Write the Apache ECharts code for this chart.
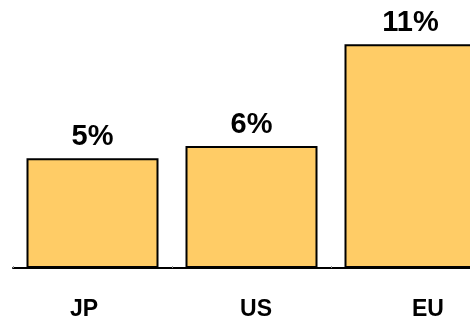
<!DOCTYPE html>
<html>
<head>
<meta charset="utf-8">
<script src="https://cdn.jsdelivr.net/npm/echarts@6/dist/echarts.min.js"></script>
<style>
  html, body { margin: 0; padding: 0; background: #fff; }
  #chart { width: 470px; height: 320px; }
</style>
</head>
<body>
<div id="chart"></div>
<script>
// data
var categories = ["JP", "US", "EU"];
var shares = [5.4, 6.0, 11.0]; // %

var chart = echarts.init(document.getElementById("chart"));

chart.setOption({
  animation: false,
  grid: [
    // bars (plot runs past the right edge, EU is cut off)
    { left: 13, width: 477, top: 24, height: 244, outerBoundsMode: "none" },
    // category labels sit on a slightly wider spacing than the bars
    { left: -2, width: 516, top: 24, height: 244, outerBoundsMode: "none" }
  ],
  xAxis: [
    {
      type: "category",
      gridIndex: 0,
      data: categories,
      axisLine: { lineStyle: { color: "#000", width: 2 } },
      axisTick: { show: true, inside: true, length: 2, lineStyle: { color: "#999" } },
      axisLabel: { show: false }
    },
    {
      type: "category",
      gridIndex: 1,
      data: categories,
      axisLine: { show: false },
      axisTick: { show: false },
      axisLabel: {
        margin: 30,
        fontFamily: "Liberation Sans, Arial, sans-serif",
        fontWeight: "bold",
        fontSize: 23,
        color: "#000"
      }
    }
  ],
  yAxis: [
    { type: "value", gridIndex: 0, min: 0, max: 12, show: false },
    { type: "value", gridIndex: 1, min: 0, max: 12, show: false }
  ],
  series: [
    {
      type: "bar",
      xAxisIndex: 0,
      yAxisIndex: 0,
      data: shares,
      barWidth: 132,
      itemStyle: { color: "#FFCC66", borderColor: "#000", borderWidth: 2 },
      label: {
        show: true,
        position: "top",
        distance: 7,
        fontFamily: "Liberation Sans, Arial, sans-serif",
        fontWeight: "bold",
        fontSize: 29,
        color: "#000",
        formatter: function (p) {
          return Math.round(p.value) + "%";
        }
      }
    }
  ]
});
</script>
</body>
</html>
